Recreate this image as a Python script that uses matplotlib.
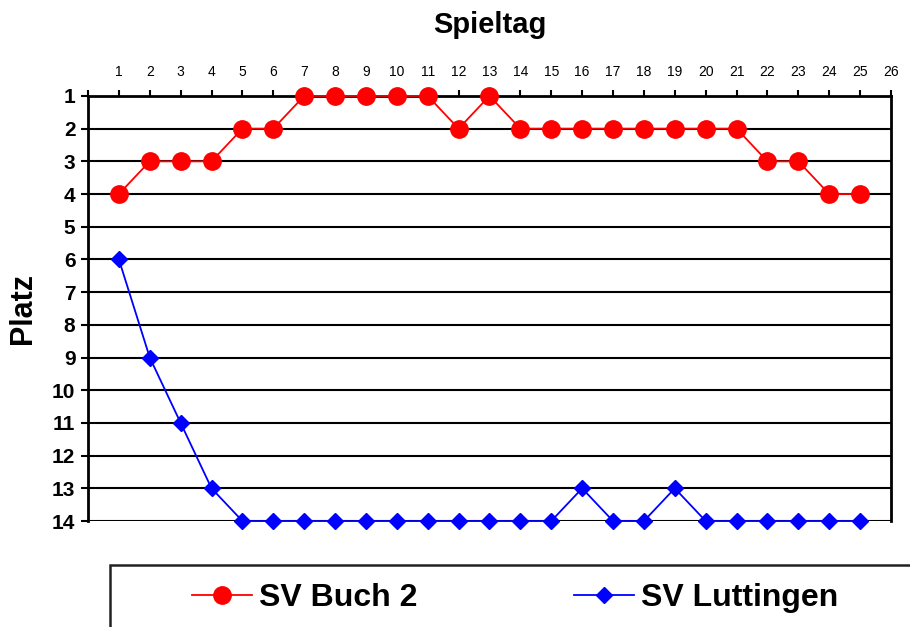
import matplotlib
matplotlib.use("Agg")
import matplotlib.pyplot as plt
from matplotlib.patches import Rectangle

plt.rcParams["font.family"] = ["Liberation Sans", "DejaVu Sans"]

spieltag = list(range(1, 26))
buch = [4, 3, 3, 3, 2, 2, 1, 1, 1, 1, 1, 2, 1, 2, 2, 2, 2, 2, 2, 2, 2, 3, 3, 4, 4]
luttingen = [6, 9, 11, 13, 14, 14, 14, 14, 14, 14, 14, 14, 14, 14, 14, 13,
             14, 14, 13, 14, 14, 14, 14, 14, 14]
x_ticks = list(range(0, 27))
x_labels = [""] + [str(i) for i in range(1, 27)]
y_ticks = list(range(1, 15))

fig = plt.figure(figsize=(9.1, 6.27), dpi=100)
ax = fig.add_axes([0.0967, 0.169, 0.8824, 0.678])

for y in y_ticks:
    ax.axhline(y, color="black", lw=1.5, zorder=1)

ax.plot(spieltag, buch, color="#ff0000", lw=1.3, marker="o", ms=12.5,
        mec="#ff0000", mfc="#ff0000", label="SV Buch 2", zorder=3,
        clip_on=False)
ax.plot(spieltag, luttingen, color="#0000ff", lw=1.3, marker="D", ms=8.5,
        mec="#0000ff", mfc="#0000ff", label="SV Luttingen", zorder=3,
        clip_on=False)

ax.set_xlim(0, 26)
ax.set_ylim(14, 1)
ax.xaxis.tick_top()
ax.set_xticks(x_ticks)
ax.set_xticklabels(x_labels, fontsize=10)
ax.set_yticks(y_ticks)
ax.set_yticklabels([str(y) for y in y_ticks], fontsize=15, fontweight="bold")
ax.tick_params(axis="x", direction="out", length=4, width=1.5, pad=8)
ax.tick_params(axis="y", direction="out", length=5, width=1.5, pad=4)

ax.spines["bottom"].set_visible(False)
for side in ("top", "left", "right"):
    ax.spines[side].set_linewidth(2)

ax.set_title("Spieltag", fontsize=21, fontweight="bold", pad=45)
ax.set_ylabel("Platz", fontsize=22, fontweight="bold", labelpad=10)

# legend box running off the bottom-right corner
fig.patches.append(Rectangle((110 / 910, -0.1), 1.0, (627 - 565) / 627 + 0.1,
                             transform=fig.transFigure, fill=False,
                             edgecolor="#222222", lw=1.8))
handles, labels = ax.get_legend_handles_labels()
fig.legend(handles, labels, loc="center left",
           bbox_to_anchor=(179 / 910, 1 - 598 / 627), ncol=2, frameon=False,
           prop={"size": 23, "weight": "bold"}, handlelength=1.9,
           handletextpad=0.2, columnspacing=4.9, borderaxespad=0)

fig.savefig("out.png", dpi=100)
